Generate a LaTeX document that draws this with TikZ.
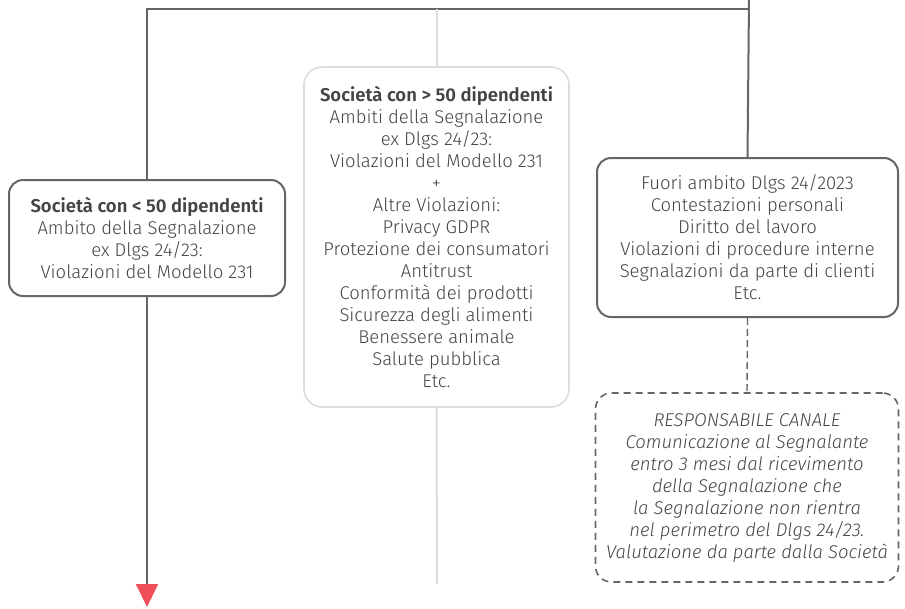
\documentclass[tikz,border=0pt]{standalone}
\usepackage{fontspec}
\setmainfont{Fira Sans}[UprightFont=* Light, BoldFont=* SemiBold, ItalicFont=* Light Italic]
\usepackage{tikz}
\usetikzlibrary{arrows.meta,positioning}

\definecolor{linedark}{HTML}{666666}
\definecolor{linelight}{HTML}{DDDDDD}
\definecolor{textgray}{HTML}{444444}
\definecolor{arrowred}{HTML}{F0505A}

\begin{document}
\begin{tikzpicture}
	[x=1pt, y=-1pt,
	 font=\fontsize{18.5}{22}\selectfont, text=textgray,
	 box/.style={draw=linedark, line width=2pt, rounded corners=14pt, align=center, inner sep=0pt},
	 lightbox/.style={draw=linelight, line width=1.6pt, rounded corners=18pt, align=center, inner sep=0pt},
	 dashbox/.style={draw=linedark, line width=1.6pt, dash pattern=on 7pt off 5pt, rounded corners=16pt, align=center, inner sep=0pt, font=\fontsize{18.5}{22}\selectfont\itshape},
	 conn/.style={draw=linedark, line width=2pt},
	 lightconn/.style={draw=linelight, line width=2pt}]

	\useasboundingbox (0,0) rectangle (905,608);

	% boxes
	\node[box, minimum width=276pt, minimum height=116pt] (small) at (147,238)
		{\textbf{Società con < 50 dipendenti}\\Ambito della Segnalazione\\ex Dlgs 24/23:\\Violazioni del Modello 231};
	\node[lightbox, minimum width=265pt, minimum height=340pt] (large) at (436.5,237)
		{\textbf{Società con > 50 dipendenti}\\Ambiti della Segnalazione\\ex Dlgs 24/23:\\Violazioni del Modello 231\\+\\Altre Violazioni:\\Privacy GDPR\\Protezione dei consumatori\\Antitrust\\Conformità dei prodotti\\Sicurezza degli alimenti\\Benessere animale\\Salute pubblica\\Etc.};
	\node[box, minimum width=301pt, minimum height=159pt] (outside) at (747.5,237.5)
		{Fuori ambito Dlgs 24/2023\\Contestazioni personali\\Diritto del lavoro\\Violazioni di procedure interne\\Segnalazioni da parte di clienti\\Etc.};
	\node[dashbox, minimum width=303pt, minimum height=189pt] (manager) at (747,487.5)
		{RESPONSABILE CANALE\\Comunicazione al Segnalante\\entro 3 mesi dal ricevimento\\della Segnalazione che\\la Segnalazione non rientra\\nel perimetro del Dlgs 24/23.\\Valutazione da parte dalla Società};

	% connectors
	\coordinate (top) at (749,0);
	\coordinate (split) at (749,9);
	\coordinate (largeend) at (437,584);
	\coordinate (smallend) at (147,607);

	\draw[conn] (top) -- (outside.north);
	\draw[conn] (small.north) |- (split);
	\draw[lightconn] (large.north) -- (large.north |- split);
	\draw[lightconn] (large.south) -- (largeend);
	\draw[conn, dash pattern=on 7pt off 4pt, line width=1.4pt] (outside.south) -- (manager.north);
	\draw[conn, -{Triangle[width=22pt,length=23pt,color=arrowred,fill=arrowred]}] (small.south) -- (smallend);
\end{tikzpicture}
\end{document}
